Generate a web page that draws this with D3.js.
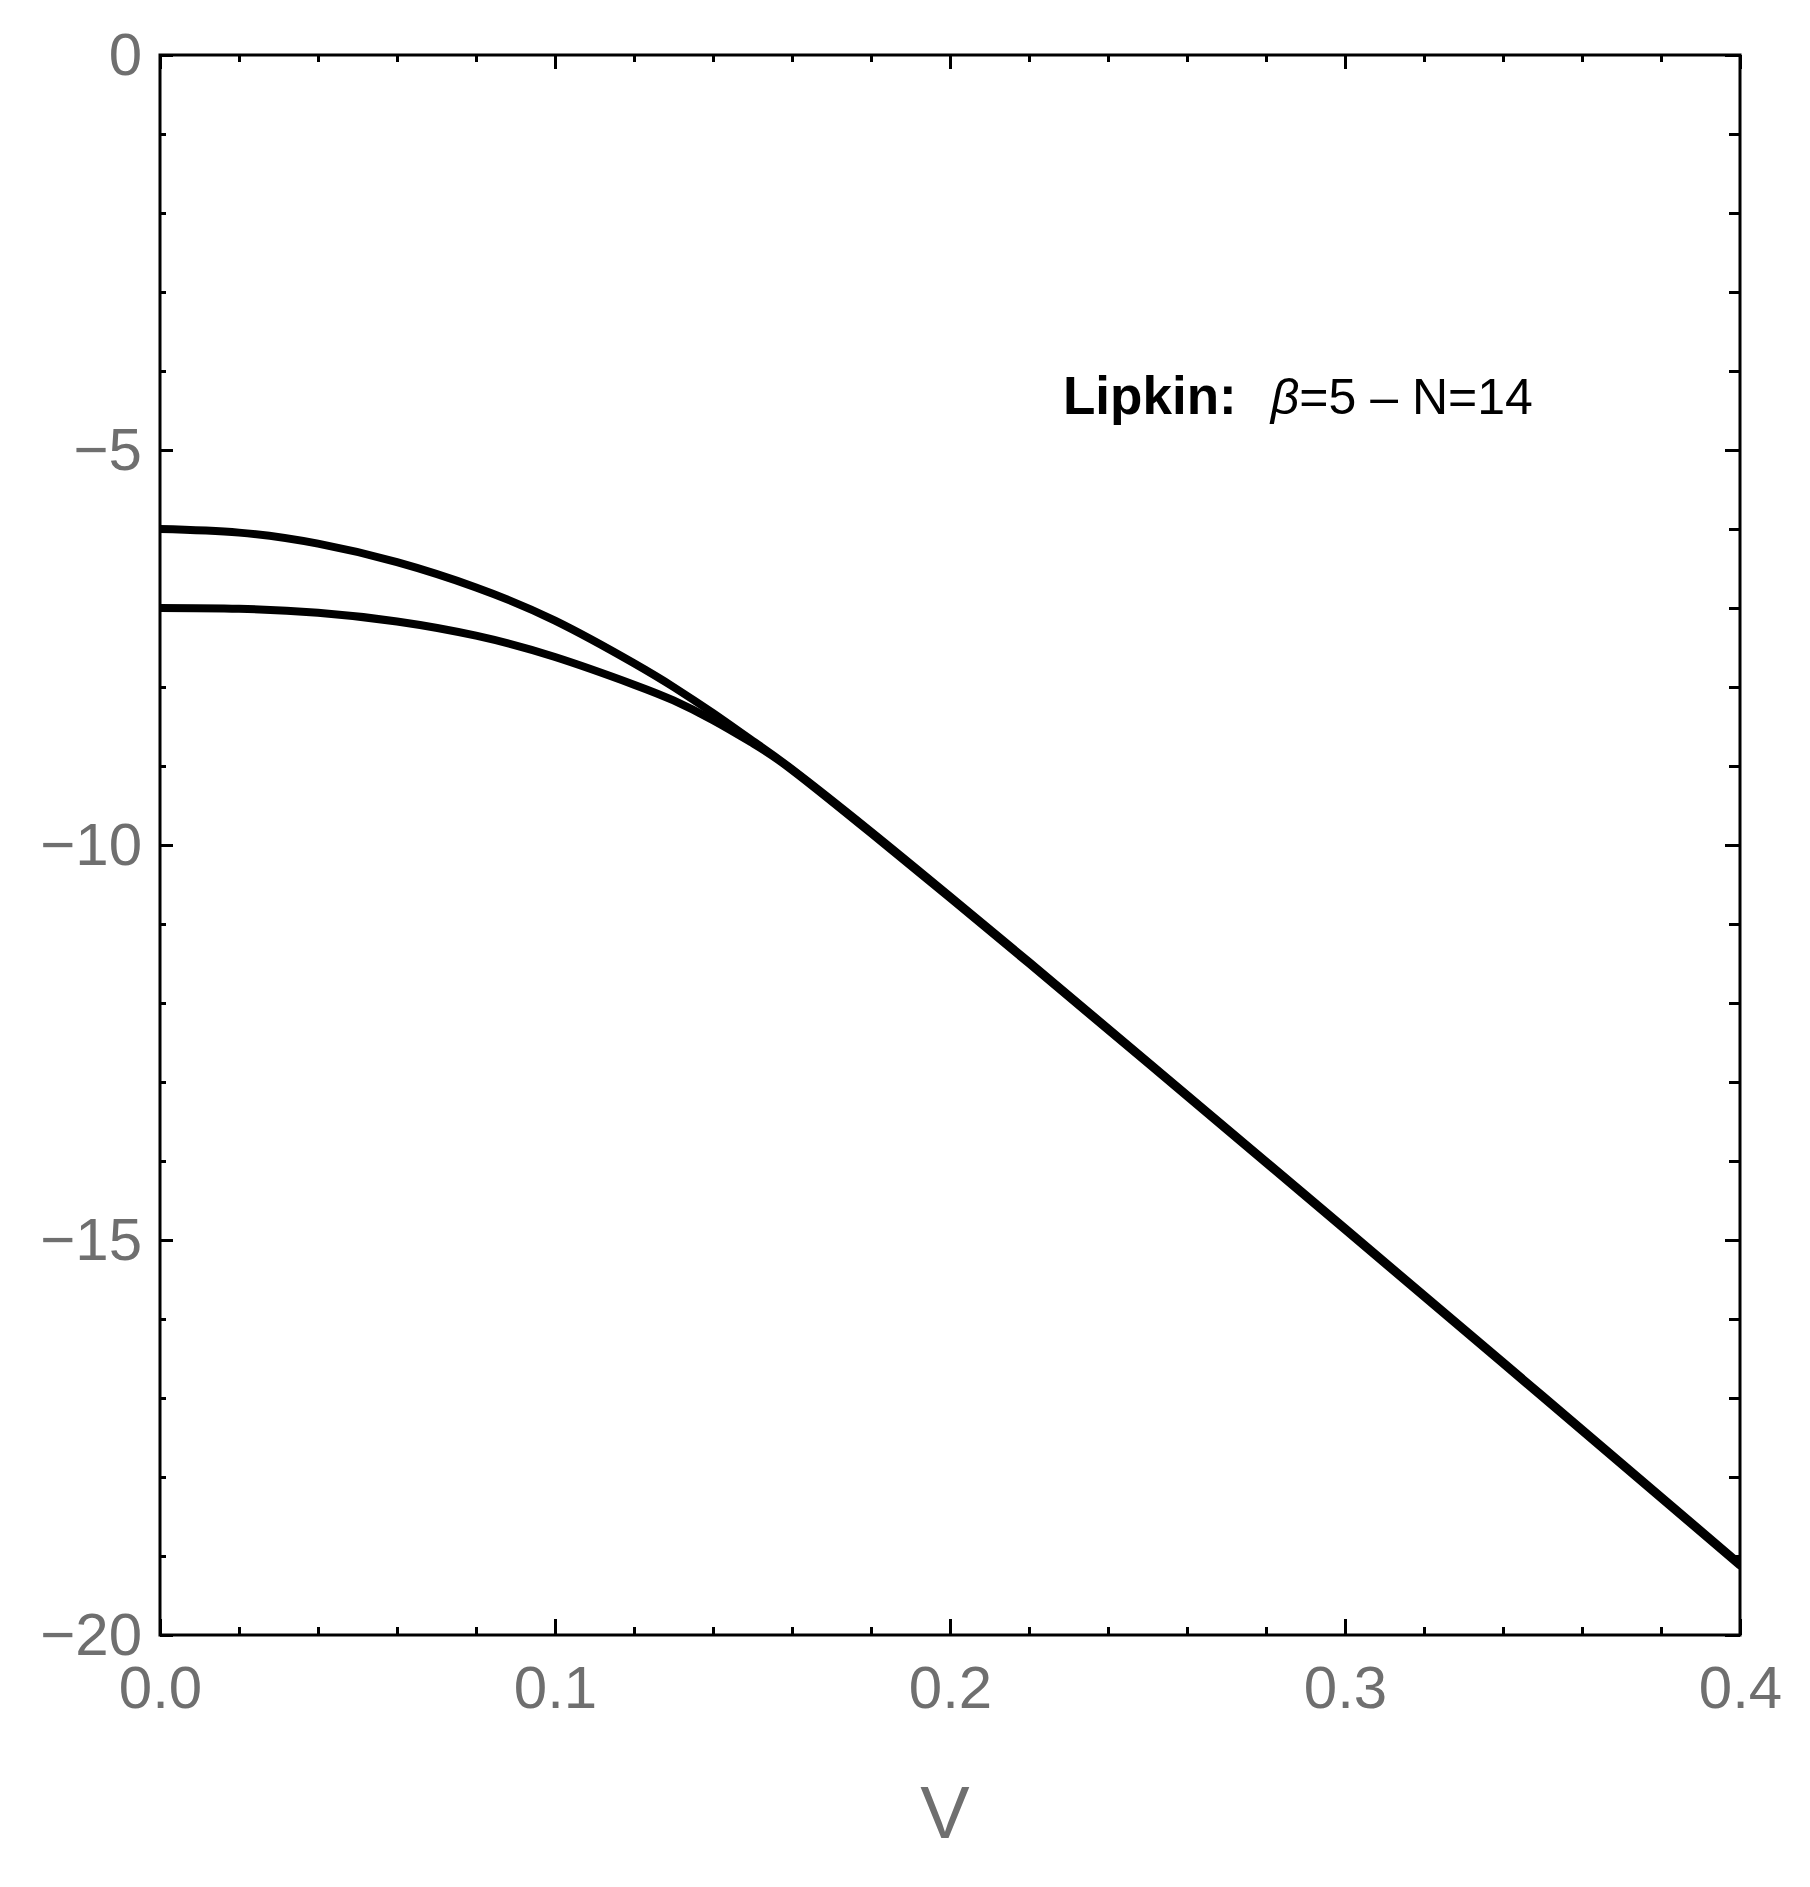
<!DOCTYPE html>
<html>
<head>
<meta charset="utf-8">
<script src="https://cdn.jsdelivr.net/npm/d3@7"></script>
<style>
  html, body { margin: 0; padding: 0; background: #fff; }
  svg { display: block; }
  text { font-family: "Liberation Sans", Arial, Helvetica, sans-serif; }
</style>
</head>
<body>
<svg id="chart" width="1810" height="1887"></svg>
<script>
// ---- data ----
const vValues = [0, 0.02, 0.04, 0.06, 0.08, 0.10, 0.12, 0.13, 0.14, 0.15, 0.16, 0.18, 0.20, 0.22, 0.25, 0.30, 0.35, 0.40];
const upperCurve = [-6.00, -6.046, -6.186, -6.42, -6.74, -7.16, -7.70, -8.00, -8.33, -8.68, -9.04, -9.83, -10.65, -11.48, -12.74, -14.85, -16.97, -19.10];
const lowerCurve = [-7.00, -7.01, -7.06, -7.17, -7.35, -7.62, -7.97, -8.17, -8.42, -8.71, -9.05, -9.85, -10.67, -11.50, -12.76, -14.87, -16.99, -19.12];
const xMajorTicks = [0, 0.1, 0.2, 0.3, 0.4];
const xMinorTicks = d3.range(0, 41, 2).map(d => d / 100).filter(d => Math.round(d * 100) % 10 !== 0);
const yMajorTicks = [0, -5, -10, -15, -20];
const yMinorTicks = d3.range(0, -21, -1).filter(d => d % 5 !== 0);
const xLabel = "V";
const annotationBold = "Lipkin:";

// ---- layout ----
const svg = d3.select("#chart");
const L = 160, R = 1740, T = 55, B = 1635;
const x = d3.scaleLinear().domain([0, 0.4]).range([L, R]);
const y = d3.scaleLinear().domain([-20, 0]).range([B, T]);
const labelColor = "#6f6f6f";

// curves
const series = [upperCurve, lowerCurve];
const line = d3.line()
  .x((d, i) => x(vValues[i]))
  .y(d => y(d))
  .curve(d3.curveNatural);

svg.append("clipPath").attr("id", "clip")
  .append("rect").attr("x", L).attr("y", T).attr("width", R - L).attr("height", B - T);

svg.append("g").attr("clip-path", "url(#clip)")
  .selectAll("path.curve").data(series).join("path")
  .attr("class", "curve")
  .attr("d", d => line(d))
  .attr("fill", "none")
  .attr("stroke", "#000")
  .attr("stroke-width", 8)
  .attr("stroke-linecap", "round")
  .attr("stroke-linejoin", "round");

// axes helpers
function styleAxis(g) {
  g.select(".domain").remove();
  g.selectAll(".tick line").attr("stroke", "#000").attr("stroke-width", 3);
  g.selectAll(".tick text")
    .attr("fill", labelColor)
    .style("font-size", "60px")
    .style("font-family", "'Liberation Sans', Arial, sans-serif");
}

// left axis
svg.append("g").attr("transform", `translate(${L},0)`)
  .call(d3.axisLeft(y).tickValues(yMinorTicks).tickSize(-6).tickFormat(""))
  .call(styleAxis);
svg.append("g").attr("transform", `translate(${L},0)`)
  .call(d3.axisLeft(y).tickValues(yMajorTicks).tickSize(-13).tickPadding(18).tickFormat(d3.format("d")))
  .call(styleAxis);

// right axis (no labels)
svg.append("g").attr("transform", `translate(${R},0)`)
  .call(d3.axisRight(y).tickValues(yMinorTicks).tickSize(-11).tickFormat(""))
  .call(styleAxis);
svg.append("g").attr("transform", `translate(${R},0)`)
  .call(d3.axisRight(y).tickValues(yMajorTicks).tickSize(-15).tickFormat(""))
  .call(styleAxis);

// bottom axis
svg.append("g").attr("transform", `translate(0,${B})`)
  .call(d3.axisBottom(x).tickValues(xMinorTicks).tickSize(-8).tickFormat(""))
  .call(styleAxis);
svg.append("g").attr("transform", `translate(0,${B})`)
  .call(d3.axisBottom(x).tickValues(xMajorTicks).tickSize(-16).tickPadding(30).tickFormat(d3.format(".1f")))
  .call(styleAxis);

// top axis (no labels)
svg.append("g").attr("transform", `translate(0,${T})`)
  .call(d3.axisTop(x).tickValues(xMinorTicks).tickSize(-7).tickFormat(""))
  .call(styleAxis);
svg.append("g").attr("transform", `translate(0,${T})`)
  .call(d3.axisTop(x).tickValues(xMajorTicks).tickSize(-14).tickFormat(""))
  .call(styleAxis);

// frame
svg.append("rect")
  .attr("x", L).attr("y", T).attr("width", R - L).attr("height", B - T)
  .attr("fill", "none").attr("stroke", "#000").attr("stroke-width", 3);

// x label
svg.append("text")
  .attr("x", 945).attr("y", 1838)
  .attr("text-anchor", "middle")
  .attr("fill", labelColor)
  .style("font-size", "74px")
  .text(xLabel);

// annotation
const ann = svg.append("text")
  .attr("x", 1063).attr("y", 414)
  .attr("fill", "#000");
ann.append("tspan").style("font-size", "53px").style("font-weight", "bold").text(annotationBold);
ann.append("tspan").attr("dx", 34).style("font-size", "50px").style("font-style", "italic").text("β");
ann.append("tspan").style("font-size", "50px").text("=5 – N=14");
</script>
</body>
</html>
